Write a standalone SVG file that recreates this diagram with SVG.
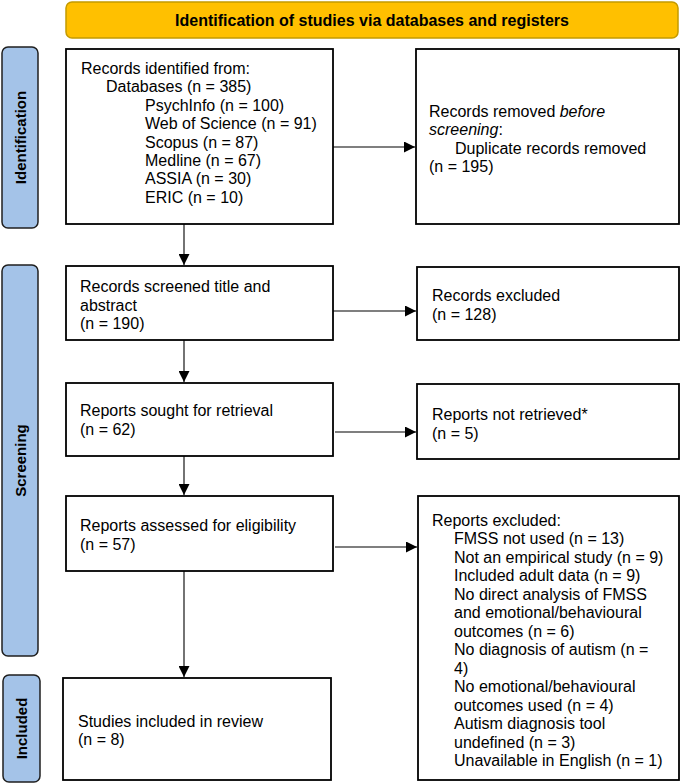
<svg xmlns="http://www.w3.org/2000/svg" width="685" height="784" viewBox="0 0 685 784">
<style>
.box{fill:#fff;stroke:#000;stroke-width:1.8}
.bar{fill:#a4c3e8;stroke:#1f1f1f;stroke-width:1.5}
.t{font-family:"Liberation Sans",Arial,sans-serif;font-size:16px;fill:#000}
.lbl{font-family:"Liberation Sans",Arial,sans-serif;font-size:15px;font-weight:bold;fill:#000;text-anchor:middle}
.c{stroke:#000;stroke-width:1.1;fill:none;marker-end:url(#ah)}
</style>
<defs>
<marker id="ah" viewBox="0 0 10 10" refX="10" refY="5" markerWidth="11" markerHeight="11" markerUnits="userSpaceOnUse" orient="auto">
<path d="M0,0 L10,5 L0,10 z" fill="#000"/>
</marker>
</defs>
<rect width="685" height="784" fill="#fff"/>
<g id="banner">
<rect x="66" y="2" width="612" height="36" rx="6" fill="#ffc000" stroke="#c49a00" stroke-width="1.5"/>
<text x="372" y="26" class="lbl" style="font-size:16px">Identification of studies via databases and registers</text>
</g>
<g id="bar-identification">
<rect x="2" y="47" width="36" height="181" rx="6" class="bar"/>
<text class="lbl" transform="translate(25.5,137.5) rotate(-90)">Identification</text>
</g>
<g id="bar-screening">
<rect x="2" y="265" width="36" height="391" rx="6" class="bar"/>
<text class="lbl" transform="translate(25.5,460.5) rotate(-90)">Screening</text>
</g>
<g id="bar-included">
<rect x="3" y="675" width="37" height="107" rx="6" class="bar"/>
<text class="lbl" transform="translate(27,728.5) rotate(-90)">Included</text>
</g>
<g id="records-identified">
<rect x="66" y="49" width="267" height="175" class="box"/>
<text class="t"><tspan x="81" y="74">Records identified from:</tspan><tspan x="106" y="92.4">Databases (n = 385)</tspan><tspan x="145" y="110.8">PsychInfo (n = 100)</tspan><tspan x="145" y="129.2">Web of Science (n = 91)</tspan><tspan x="145" y="147.6">Scopus (n = 87)</tspan><tspan x="145" y="166">Medline (n = 67)</tspan><tspan x="145" y="184.4">ASSIA (n = 30)</tspan><tspan x="145" y="202.8">ERIC (n = 10)</tspan></text>
</g>
<g id="records-removed">
<rect x="416" y="49" width="263" height="175" class="box"/>
<text class="t"><tspan x="429" y="117">Records removed <tspan font-style="italic">before</tspan></tspan><tspan x="429" y="135.4"><tspan font-style="italic">screening</tspan>:</tspan><tspan x="455" y="153.8">Duplicate records removed</tspan><tspan x="429" y="172.2">(n = 195)</tspan></text>
</g>
<g id="records-screened">
<rect x="66" y="266" width="267" height="74" class="box"/>
<text class="t"><tspan x="80" y="292">Records screened title and</tspan><tspan x="80" y="310.5">abstract</tspan><tspan x="80" y="329">(n = 190)</tspan></text>
</g>
<g id="records-excluded">
<rect x="417" y="267" width="262" height="73" class="box"/>
<text class="t"><tspan x="432" y="301">Records excluded</tspan><tspan x="432" y="319.5">(n = 128)</tspan></text>
</g>
<g id="reports-sought">
<rect x="66" y="383" width="267" height="73" class="box"/>
<text class="t"><tspan x="80" y="416">Reports sought for retrieval</tspan><tspan x="80" y="434.5">(n = 62)</tspan></text>
</g>
<g id="reports-not-retrieved">
<rect x="417" y="384" width="262" height="75" class="box"/>
<text class="t"><tspan x="432" y="420">Reports not retrieved*</tspan><tspan x="432" y="438.5">(n = 5)</tspan></text>
</g>
<g id="reports-assessed">
<rect x="66" y="496" width="267" height="75" class="box"/>
<text class="t"><tspan x="80" y="531">Reports assessed for eligibility</tspan><tspan x="80" y="549.5">(n = 57)</tspan></text>
</g>
<g id="reports-excluded">
<rect x="418" y="496" width="261" height="284" class="box"/>
<text class="t"><tspan x="432" y="525.5">Reports excluded:</tspan><tspan x="454" y="544">FMSS not used (n = 13)</tspan><tspan x="454" y="562.5">Not an empirical study (n = 9)</tspan><tspan x="454" y="581">Included adult data (n = 9)</tspan><tspan x="454" y="599.5">No direct analysis of FMSS</tspan><tspan x="454" y="618">and emotional/behavioural</tspan><tspan x="454" y="636.5">outcomes (n = 6)</tspan><tspan x="454" y="655">No diagnosis of autism (n =</tspan><tspan x="454" y="673.5">4)</tspan><tspan x="454" y="692">No emotional/behavioural</tspan><tspan x="454" y="710.5">outcomes used (n = 4)</tspan><tspan x="454" y="729">Autism diagnosis tool</tspan><tspan x="454" y="747.5">undefined (n = 3)</tspan><tspan x="454" y="766">Unavailable in English (n = 1)</tspan></text>
</g>
<g id="studies-included">
<rect x="63" y="678" width="268" height="102" class="box"/>
<text class="t"><tspan x="78" y="726.5">Studies included in review</tspan><tspan x="78" y="745">(n = 8)</tspan></text>
</g>
<g id="connectors">
<line x1="333" y1="147" x2="415" y2="147" class="c"/>
<line x1="184" y1="224" x2="184" y2="265" class="c"/>
<line x1="333" y1="311" x2="416" y2="311" class="c"/>
<line x1="184" y1="340" x2="184" y2="382" class="c"/>
<line x1="335" y1="432" x2="416" y2="432" class="c"/>
<line x1="184" y1="456" x2="184" y2="495" class="c"/>
<line x1="335" y1="547" x2="417" y2="547" class="c"/>
<line x1="184" y1="571" x2="184" y2="677" class="c"/>
</g>
</svg>
